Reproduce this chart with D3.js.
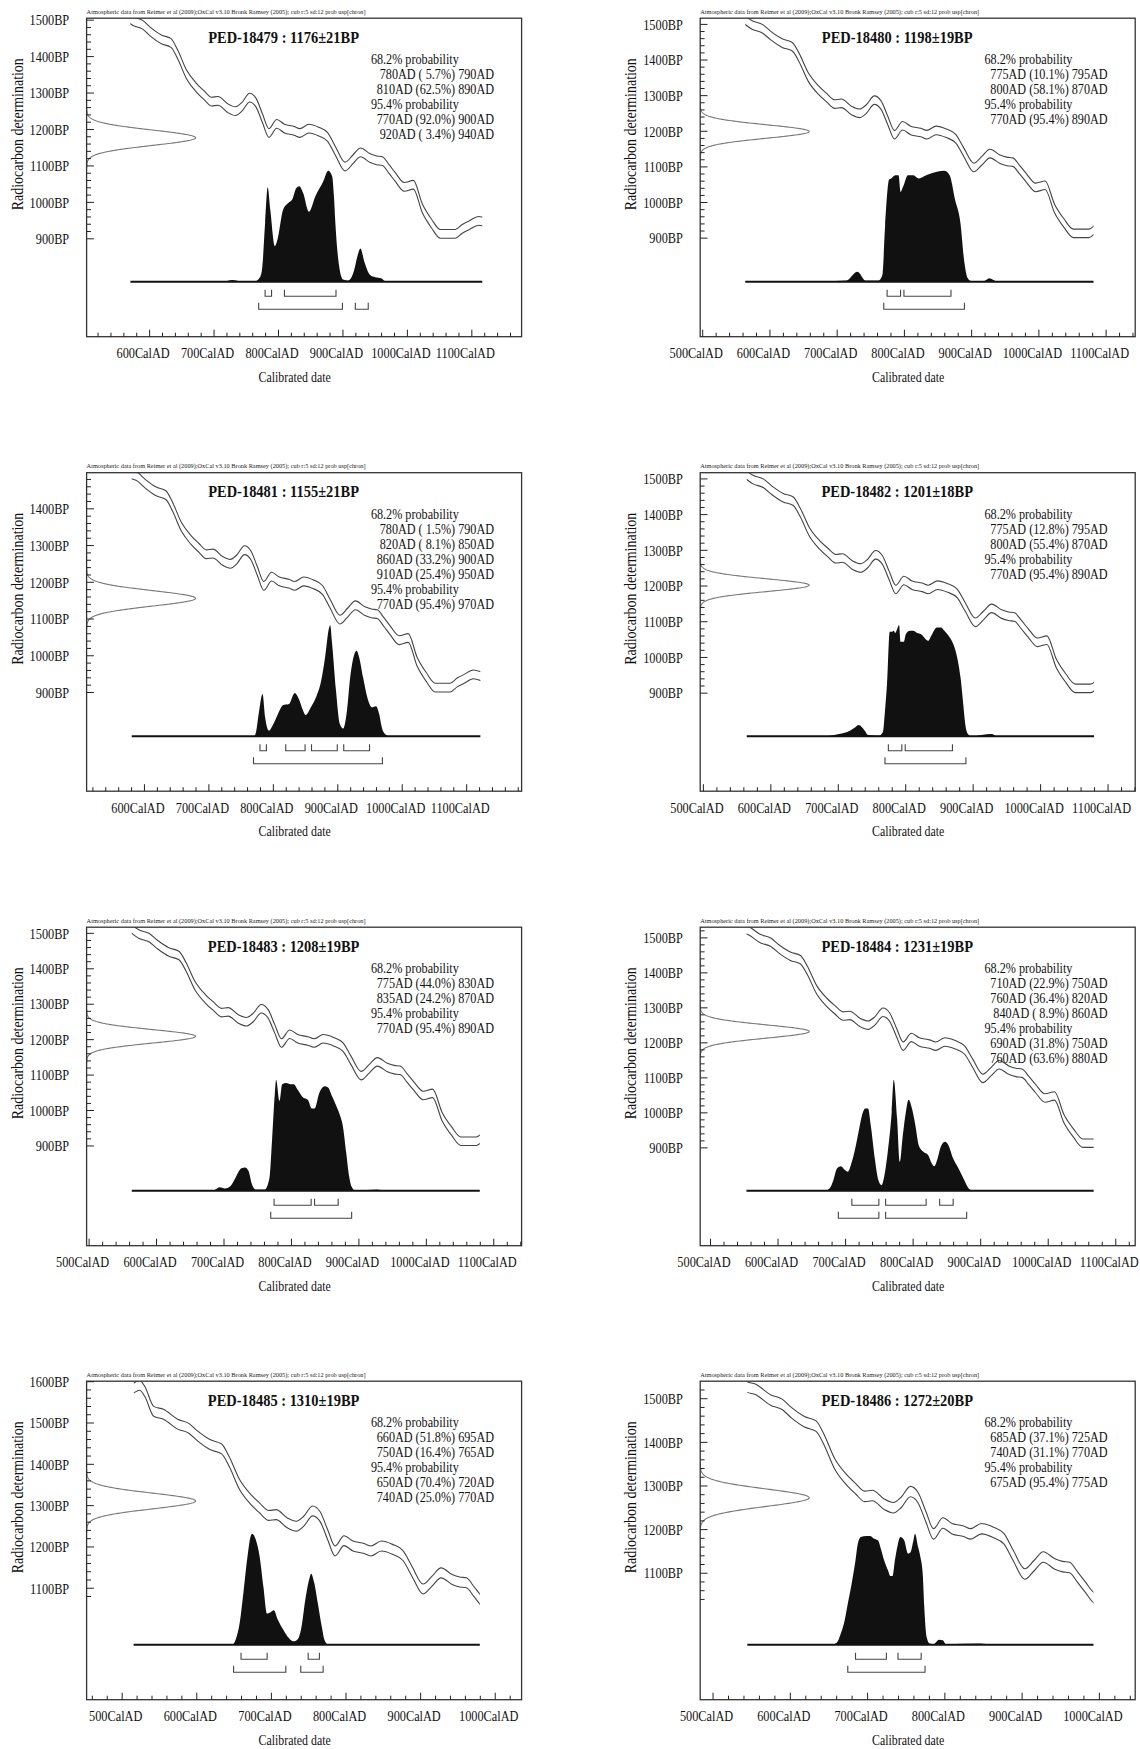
<!DOCTYPE html>
<html>
<head>
<meta charset="utf-8">
<script src="https://cdn.jsdelivr.net/npm/d3@7"></script>
<style>
body { margin: 0; background: #fff; }
svg { display: block; }
</style>
</head>
<body>
<svg id="chart" width="1140" height="1749"></svg>
<script>
const headerText = "Atmospheric data from Reimer et al (2009);OxCal v3.10 Bronk Ramsey (2005); cub r:5 sd:12 prob usp[chron]";

const sampleIds = ["PED-18479", "PED-18480", "PED-18481", "PED-18482", "PED-18483", "PED-18484", "PED-18485", "PED-18486"];
const bpValues = [1176, 1198, 1155, 1201, 1208, 1231, 1310, 1272];
const bpErrors = [21, 19, 21, 18, 19, 19, 19, 20];

// [from AD, percent, to AD]
const ranges68 = [
    [[780, 5.7, 790], [810, 62.5, 890]],
    [[775, 10.1, 795], [800, 58.1, 870]],
    [[780, 1.5, 790], [820, 8.1, 850], [860, 33.2, 900], [910, 25.4, 950]],
    [[775, 12.8, 795], [800, 55.4, 870]],
    [[775, 44.0, 830], [835, 24.2, 870]],
    [[710, 22.9, 750], [760, 36.4, 820], [840, 8.9, 860]],
    [[660, 51.8, 695], [750, 16.4, 765]],
    [[685, 37.1, 725], [740, 31.1, 770]]
];
const ranges95 = [
    [[770, 92.0, 900], [920, 3.4, 940]],
    [[770, 95.4, 890]],
    [[770, 95.4, 970]],
    [[770, 95.4, 890]],
    [[770, 95.4, 890]],
    [[690, 31.8, 750], [760, 63.6, 880]],
    [[650, 70.4, 720], [740, 25.0, 770]],
    [[675, 95.4, 775]]
];

// axis extents of each panel
const xDomains = [[503, 1178], [497, 1144], [511, 1186], [496, 1141], [497, 1142], [485.5, 1129.5], [453, 1036], [484, 1047]];
const yDomains = [[630, 1504], [622, 1516], [630, 1497], [624, 1516], [617, 1516], [619, 1529], [829, 1600], [809, 1539]];
const yTickMins = [900, 900, 900, 900, 900, 900, 1080, 1040];
const curveSpans = [[571, 1117], [564, 1082], [581, 1122], [565, 1080], [564, 1080], [554, 1068], [516, 980], [545, 993]];

// calibration curve (mean), +/- calSigma
const calYears = [516, 524, 531, 543, 556, 575, 590, 602, 619, 634, 644, 658, 673, 685, 697, 707, 722, 734, 744, 756, 766, 776, 786, 798, 810, 825, 834, 848, 863, 877, 889, 904, 916, 928, 943, 953, 962, 972, 982, 996, 1010, 1024, 1038, 1052, 1075, 1086, 1097, 1111, 1123];
const calBP = [1583, 1590, 1575, 1527, 1520, 1496, 1486, 1467, 1446, 1436, 1406, 1350, 1314, 1293, 1275, 1277, 1257, 1249, 1261, 1286, 1272, 1229, 1189, 1214, 1201, 1195, 1189, 1201, 1193, 1178, 1140, 1097, 1116, 1136, 1120, 1114, 1112, 1091, 1068, 1041, 1047, 982, 941, 912, 912, 926, 936, 948, 943];
const calSigma = 12;

// calibrated probability, [year AD, relative height]
const dist18479 = [[571, 0], [715, 0], [729, 0.015], [745, 0], [763, 0], [771, 0.03], [775, 0.1], [780, 0.53], [784, 0.85], [788, 0.65], [795, 0.32], [799, 0.375], [808, 0.65], [816, 0.71], [822, 0.74], [828, 0.84], [833, 0.86], [839, 0.8], [848, 0.63], [858, 0.77], [870, 0.9], [878, 1.0], [884, 0.95], [887, 0.75], [889, 0.53], [895, 0.135], [901, 0.02], [909, 0.01], [918, 0.1], [923, 0.225], [928, 0.3], [934, 0.18], [943, 0.06], [951, 0.04], [960, 0.03], [968, 0], [1117, 0]];
const dist18480 = [[564, 0], [681, 0.005], [714, 0.01], [731, 0.09], [743, 0.01], [762, 0.01], [768, 0.06], [772, 0.5], [778, 0.92], [781, 0.93], [787, 0.96], [792, 0.96], [795, 0.81], [799, 0.86], [806, 0.96], [814, 0.96], [822, 0.93], [830, 0.95], [838, 0.97], [849, 0.99], [860, 1.0], [868, 0.96], [876, 0.74], [884, 0.53], [890, 0.17], [895, 0.03], [900, 0.005], [919, 0.005], [927, 0.03], [938, 0.003], [1082, 0]];
const dist18481 = [[581, 0], [771, 0], [774, 0.04], [778, 0.2], [784, 0.38], [788, 0.17], [794, 0.05], [800, 0.1], [808, 0.2], [816, 0.28], [825, 0.29], [834, 0.39], [840, 0.34], [847, 0.23], [851, 0.19], [859, 0.26], [867, 0.35], [875, 0.5], [881, 0.71], [887, 0.97], [889, 1.0], [892, 0.83], [898, 0.41], [904, 0.11], [909, 0.07], [915, 0.23], [920, 0.53], [926, 0.73], [930, 0.77], [934, 0.71], [940, 0.53], [947, 0.34], [954, 0.26], [960, 0.27], [965, 0.2], [969, 0.08], [974, 0.02], [982, 0], [1122, 0]];
const dist18482 = [[565, 0], [680, 0], [702, 0.02], [718, 0.05], [726, 0.08], [731, 0.1], [740, 0.05], [745, 0.01], [761, 0.003], [767, 0.04], [770, 0.23], [773, 0.47], [777, 0.94], [780, 0.94], [783, 0.95], [785, 0.93], [791, 1.0], [793, 0.85], [798, 0.85], [801, 0.92], [807, 0.95], [812, 0.95], [818, 0.93], [823, 0.92], [834, 0.86], [839, 0.91], [847, 0.98], [853, 0.98], [858, 0.95], [866, 0.89], [872, 0.82], [877, 0.71], [882, 0.53], [886, 0.29], [889, 0.11], [893, 0.02], [898, 0], [928, 0.02], [936, 0], [1080, 0]];
const dist18483 = [[564, 0], [686, 0.005], [694, 0.03], [702, 0.02], [710, 0.04], [718, 0.12], [726, 0.2], [732, 0.21], [737, 0.18], [742, 0.06], [748, 0.01], [761, 0.01], [768, 0.11], [772, 0.46], [776, 0.87], [778, 1.0], [783, 0.81], [787, 0.96], [793, 0.97], [799, 0.96], [804, 0.96], [810, 0.91], [818, 0.84], [825, 0.82], [831, 0.74], [835, 0.74], [842, 0.88], [850, 0.94], [855, 0.93], [861, 0.85], [866, 0.78], [872, 0.69], [877, 0.58], [882, 0.34], [886, 0.14], [890, 0.035], [896, 0], [928, 0.01], [939, 0], [1080, 0]];
const dist18484 = [[554, 0], [669, 0], [677, 0.02], [683, 0.1], [688, 0.2], [694, 0.22], [699, 0.19], [704, 0.17], [710, 0.26], [715, 0.38], [720, 0.53], [726, 0.7], [730, 0.74], [734, 0.74], [738, 0.59], [744, 0.29], [749, 0.1], [754, 0.05], [758, 0.13], [763, 0.34], [769, 0.71], [772, 1.0], [777, 0.65], [781, 0.26], [785, 0.47], [790, 0.71], [794, 0.82], [799, 0.74], [804, 0.59], [809, 0.41], [816, 0.35], [823, 0.32], [828, 0.25], [832, 0.22], [837, 0.29], [842, 0.4], [848, 0.44], [853, 0.41], [860, 0.29], [868, 0.2], [876, 0.1], [883, 0.02], [890, 0], [1068, 0]];
const dist18485 = [[516, 0], [648, 0], [653, 0.05], [658, 0.19], [663, 0.46], [668, 0.76], [673, 0.98], [675, 1.0], [680, 0.94], [685, 0.79], [690, 0.52], [695, 0.28], [699, 0.29], [704, 0.31], [709, 0.23], [717, 0.13], [724, 0.06], [730, 0.03], [736, 0.05], [741, 0.16], [746, 0.4], [751, 0.58], [754, 0.64], [758, 0.56], [763, 0.37], [768, 0.17], [772, 0.04], [777, 0], [980, 0]];
const dist18486 = [[545, 0], [654, 0], [661, 0.02], [666, 0.1], [671, 0.22], [675, 0.37], [680, 0.55], [685, 0.76], [688, 0.91], [692, 0.97], [699, 0.98], [704, 0.98], [708, 0.96], [714, 0.94], [718, 0.86], [722, 0.76], [727, 0.67], [730, 0.62], [733, 0.62], [736, 0.76], [740, 0.91], [743, 0.97], [748, 0.94], [753, 0.82], [756, 0.83], [760, 0.94], [762, 1.0], [766, 0.88], [769, 0.79], [772, 0.64], [774, 0.34], [777, 0.07], [781, 0.01], [786, 0.005], [793, 0.045], [798, 0.04], [802, 0.005], [847, 0.01], [861, 0], [993, 0]];
const distributions = [dist18479, dist18480, dist18481, dist18482, dist18483, dist18484, dist18485, dist18486];

const serif = "'Liberation Serif', 'Times New Roman', Times, serif";
const colX = [86.6, 700.2];
const rowY = [18.2, 472.7, 927.2, 1381.2];
const W = 435, H = 318.5;
const baseY = 263.5;

const svg = d3.select("#chart");

function condensed(g, x, y, str, size, sx, anchor, weight) {
    return g.append("text")
        .attr("transform", `translate(${x},${y}) scale(${sx},1)`)
        .attr("text-anchor", anchor)
        .attr("font-family", serif)
        .attr("font-size", size)
        .attr("font-weight", weight || "normal")
        .attr("fill", "#111")
        .text(str);
}

function rangeText(r) {
    const pct = r[1].toFixed(1) + "%";
    return `${r[0]}AD (${r[1] < 10 ? " " : ""}${pct}) ${r[2]}AD`;
}

sampleIds.forEach((id, i) => {
    const g = svg.append("g")
        .attr("transform", `translate(${colX[i % 2]},${rowY[Math.floor(i / 2)]})`);

    const x = d3.scaleLinear().domain(xDomains[i]).range([0, W]);
    const y = d3.scaleLinear().domain(yDomains[i]).range([H, 0]);
    const prob = d3.scaleLinear().domain([0, 1]).range([baseY, baseY - 111]);
    const gx = d3.scaleLinear().domain([0, 1]).range([0, 109]);

    const span = curveSpans[i];
    g.append("clipPath").attr("id", "span" + i).append("rect")
        .attr("x", x(span[0])).attr("y", 0)
        .attr("width", x(span[1]) - x(span[0])).attr("height", H);
    g.append("clipPath").attr("id", "box" + i).append("rect")
        .attr("x", 0).attr("y", 0).attr("width", W).attr("height", H);

    // calibration curve
    const cal = calYears.map((yr, k) => [yr, calBP[k]]);
    [1, -1].forEach(s => {
        g.append("path")
            .datum(cal)
            .attr("clip-path", `url(#span${i})`)
            .attr("fill", "none")
            .attr("stroke", "#444")
            .attr("stroke-width", 1.1)
            .attr("d", d3.line()
                .x(d => x(d[0]))
                .y(d => y(d[1] + s * calSigma))
                .curve(d3.curveMonotoneX));
    });

    // radiocarbon measurement
    const bp = bpValues[i], sd = bpErrors[i];
    const gauss = d3.range(bp - 4 * sd, bp + 4 * sd + 0.5, 1)
        .map(b => [b, Math.exp(-0.5 * Math.pow((b - bp) / sd, 2))]);
    g.append("path")
        .datum(gauss)
        .attr("clip-path", `url(#box${i})`)
        .attr("fill", "none")
        .attr("stroke", "#777")
        .attr("stroke-width", 1.1)
        .attr("d", d3.line().x(d => gx(d[1])).y(d => y(d[0])));

    // calibrated distribution
    g.append("path")
        .datum(distributions[i])
        .attr("fill", "#111")
        .attr("d", d3.area()
            .x(d => x(d[0]))
            .y0(baseY)
            .y1(d => prob(d[1]))
            .curve(d3.curveMonotoneX));
    g.append("line")
        .attr("x1", x(span[0])).attr("x2", x(span[1]))
        .attr("y1", baseY).attr("y2", baseY)
        .attr("stroke", "#111").attr("stroke-width", 2);

    // range brackets
    [[ranges68[i], 278], [ranges95[i], 291]].forEach(([rs, ry]) => {
        g.selectAll(null)
            .data(rs)
            .enter()
            .append("path")
            .attr("fill", "none")
            .attr("stroke", "#444")
            .attr("stroke-width", 1.1)
            .attr("d", r => `M${x(r[0])},${ry - 6.5}V${ry}H${x(r[2])}V${ry - 6.5}`);
    });

    // frame
    g.append("rect")
        .attr("width", W).attr("height", H)
        .attr("fill", "none").attr("stroke", "#333").attr("stroke-width", 1.3);

    // y axis
    const yTicks = d3.range(yTickMins[i], yDomains[i][1] + 0.01, 20);
    g.append("g")
        .call(d3.axisLeft(y).tickValues(yTicks.filter(v => v % 100 !== 0))
            .tickSize(-4.4).tickSizeOuter(0).tickFormat(""))
        .call(a => a.select(".domain").remove())
        .selectAll("line").attr("stroke", "#222");
    const yAx = g.append("g")
        .call(d3.axisLeft(y).tickValues(yTicks.filter(v => v % 100 === 0))
            .tickSize(-7.3).tickSizeOuter(0).tickFormat(d => d + "BP"))
        .call(a => a.select(".domain").remove())
        .attr("font-family", serif).attr("font-size", 15);
    yAx.selectAll("line").attr("stroke", "#222");
    yAx.selectAll("text")
        .attr("fill", "#111")
        .attr("x", -17.4 / 0.82)
        .attr("dy", "0.35em")
        .attr("transform", "scale(0.82,1)");

    // x axis
    const xTicks = d3.range(Math.ceil(xDomains[i][0] / 20) * 20, xDomains[i][1], 20);
    g.append("g")
        .attr("transform", `translate(0,${H})`)
        .call(d3.axisBottom(x).tickValues(xTicks.filter(v => v % 100 !== 0))
            .tickSize(-4).tickSizeOuter(0).tickFormat(""))
        .call(a => a.select(".domain").remove())
        .selectAll("line").attr("stroke", "#222");
    const xAx = g.append("g")
        .attr("transform", `translate(0,${H})`)
        .call(d3.axisBottom(x).tickValues(xTicks.filter(v => v % 100 === 0))
            .tickSize(-7).tickSizeOuter(0).tickFormat(d => d + "CalAD"))
        .call(a => a.select(".domain").remove())
        .attr("font-family", serif).attr("font-size", 15);
    xAx.selectAll("line").attr("stroke", "#222");
    xAx.selectAll("text")
        .attr("fill", "#111")
        .attr("y", 21.5)
        .attr("dy", null)
        .attr("transform", "translate(-6.5,0) scale(0.82,1)");

    // labels
    condensed(g, 208, H + 45, "Calibrated date", 14, 0.85, "middle");
    g.append("text")
        .attr("transform", "translate(-69.7,116) rotate(-90) scale(0.82,1)")
        .attr("text-anchor", "middle")
        .attr("dy", "0.35em")
        .attr("font-family", serif)
        .attr("font-size", 17)
        .attr("fill", "#111")
        .text("Radiocarbon determination");
    g.append("text")
        .attr("x", 0).attr("y", -4.5)
        .attr("font-family", serif)
        .attr("font-size", 7)
        .attr("textLength", 279)
        .attr("lengthAdjust", "spacingAndGlyphs")
        .attr("fill", "#222")
        .text(headerText);
    condensed(g, 197, 24.5, `${id} : ${bp}±${sd}BP`, 17, 0.85, "middle", "bold");

    // probability ranges
    const lines = [{ t: "68.2% probability", h: true }]
        .concat(ranges68[i].map(r => ({ t: rangeText(r) })))
        .concat([{ t: "95.4% probability", h: true }])
        .concat(ranges95[i].map(r => ({ t: rangeText(r) })));
    lines.forEach((l, k) => {
        if (l.h) condensed(g, 284.3, 46 + k * 15, l.t, 14, 0.87, "start");
        else condensed(g, 407.4, 46 + k * 15, l.t, 14, 0.87, "end");
    });
});
</script>
</body>
</html>
